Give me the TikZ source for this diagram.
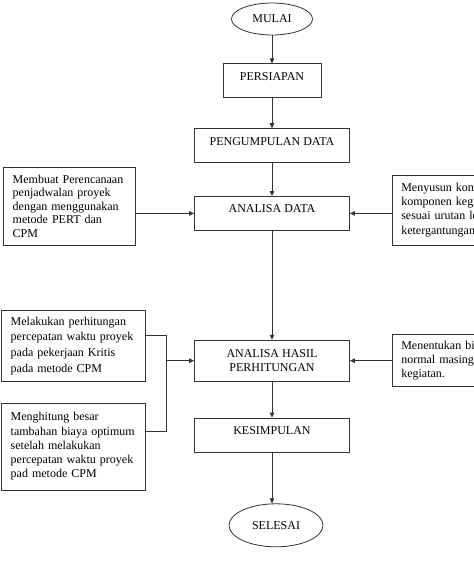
\documentclass[tikz,border=0pt]{standalone}
\usepackage{fontspec}
\setmainfont{Liberation Serif}
\usetikzlibrary{shapes.geometric, arrows.meta, positioning}
\definecolor{garis}{HTML}{333333}

\begin{document}
\begin{tikzpicture}[
    node distance=30pt and 42pt,
    >={Triangle[length=5pt, width=4.5pt]},
    % --- node styles ---
    terminal/.style={
        ellipse, draw=garis, line width=0.8pt, minimum width=81pt, minimum height=32pt,
        inner sep=1pt, font=\fontsize{12}{14}\selectfont
    },
    kotak/.style={
        rectangle, draw=garis, line width=0.8pt, minimum width=155pt,
        text centered, font=\fontsize{12}{14}\selectfont
    },
    stepbox/.style={
        kotak, inner ysep=0pt, text height=16.5pt, text depth=17.5pt
    },
    sidebox/.style={
        rectangle, draw=garis, line width=0.8pt, align=left, inner xsep=9pt,
        font=\fontsize{12}{14.3}\selectfont
    },
    arrow/.style={->, line width=0.8pt, color=garis},
    line/.style={line width=0.8pt, color=garis},
]
\useasboundingbox (0,0) rectangle (474pt,-574pt);
\clip (0,0) rectangle (474pt,-574pt);

% ===== MAIN FLOW =====
\node[terminal] (mulai) at (272pt,-19pt) {MULAI};

\node[stepbox, minimum width=98pt, below=28pt of mulai] (persiapan) {PERSIAPAN};
\draw[arrow] (mulai) -- (persiapan);

\node[stepbox, below=30pt of persiapan] (pengumpulan) {PENGUMPULAN DATA};
\draw[arrow] (persiapan) -- (pengumpulan);

\node[stepbox, below=33pt of pengumpulan] (analisa) {ANALISA DATA};
\draw[arrow] (pengumpulan) -- (analisa);

\node[kotak, align=center, minimum height=41pt, below=109pt of analisa] (hasil)
    {ANALISA HASIL\\PERHITUNGAN};
\draw[arrow] (analisa) -- (hasil);

\node[stepbox, below=36pt of hasil] (kesimpulan) {KESIMPULAN};
\draw[arrow] (hasil) -- (kesimpulan);

\node[terminal, minimum width=94pt, minimum height=43pt, below=51pt of kesimpulan, xshift=4pt] (selesai) {SELESAI};
\draw[arrow] (kesimpulan.south) -- (kesimpulan.south |- selesai.north);

% ===== SIDE INPUTS: ANALISA DATA =====
\node[sidebox, text width=114pt, minimum height=78pt, font=\fontsize{12}{13.5}\selectfont,
    left=58pt of analisa, yshift=7.5pt] (rencana)
    {Membuat Perencanaan\\penjadwalan proyek\\dengan menggunakan\\metode PERT dan\\CPM};
\draw[arrow] (rencana.east |- analisa.west) -- (analisa.west);

\node[sidebox, text width=130pt, minimum height=70pt, right=of analisa, yshift=3.5pt] (urutan)
    {Menyusun komponen-\\komponen kegiatan\\sesuai urutan logika\\ketergantungan.};
\draw[arrow] (urutan.west |- analisa.east) -- (analisa.east);

% ===== SIDE INPUTS: ANALISA HASIL =====
\node[sidebox, text width=126pt, minimum height=71pt, font=\fontsize{12}{15.7}\selectfont,
    left=48pt of hasil, yshift=15pt] (kritis)
    {Melakukan perhitungan\\percepatan waktu proyek\\pada pekerjaan Kritis\\pada metode CPM};

\node[sidebox, text width=126pt, minimum height=87pt, below=21pt of kritis] (biaya)
    {Menghitung besar\\tambahan biaya optimum\\setelah melakukan\\percepatan waktu proyek\\pad metode CPM};

\draw[line] ([yshift=10pt]kritis.east) -- ++(20pt,0) coordinate (sambung) |- ([yshift=15pt]biaya.east);
\draw[arrow] (sambung |- hasil.west) -- (hasil.west);

\node[sidebox, text width=130pt, minimum height=52pt, right=of hasil] (normal)
    {Menentukan biaya\\normal masing-masing\\kegiatan.};
\draw[arrow] (normal.west |- hasil.east) -- (hasil.east);

\end{tikzpicture}
\end{document}
